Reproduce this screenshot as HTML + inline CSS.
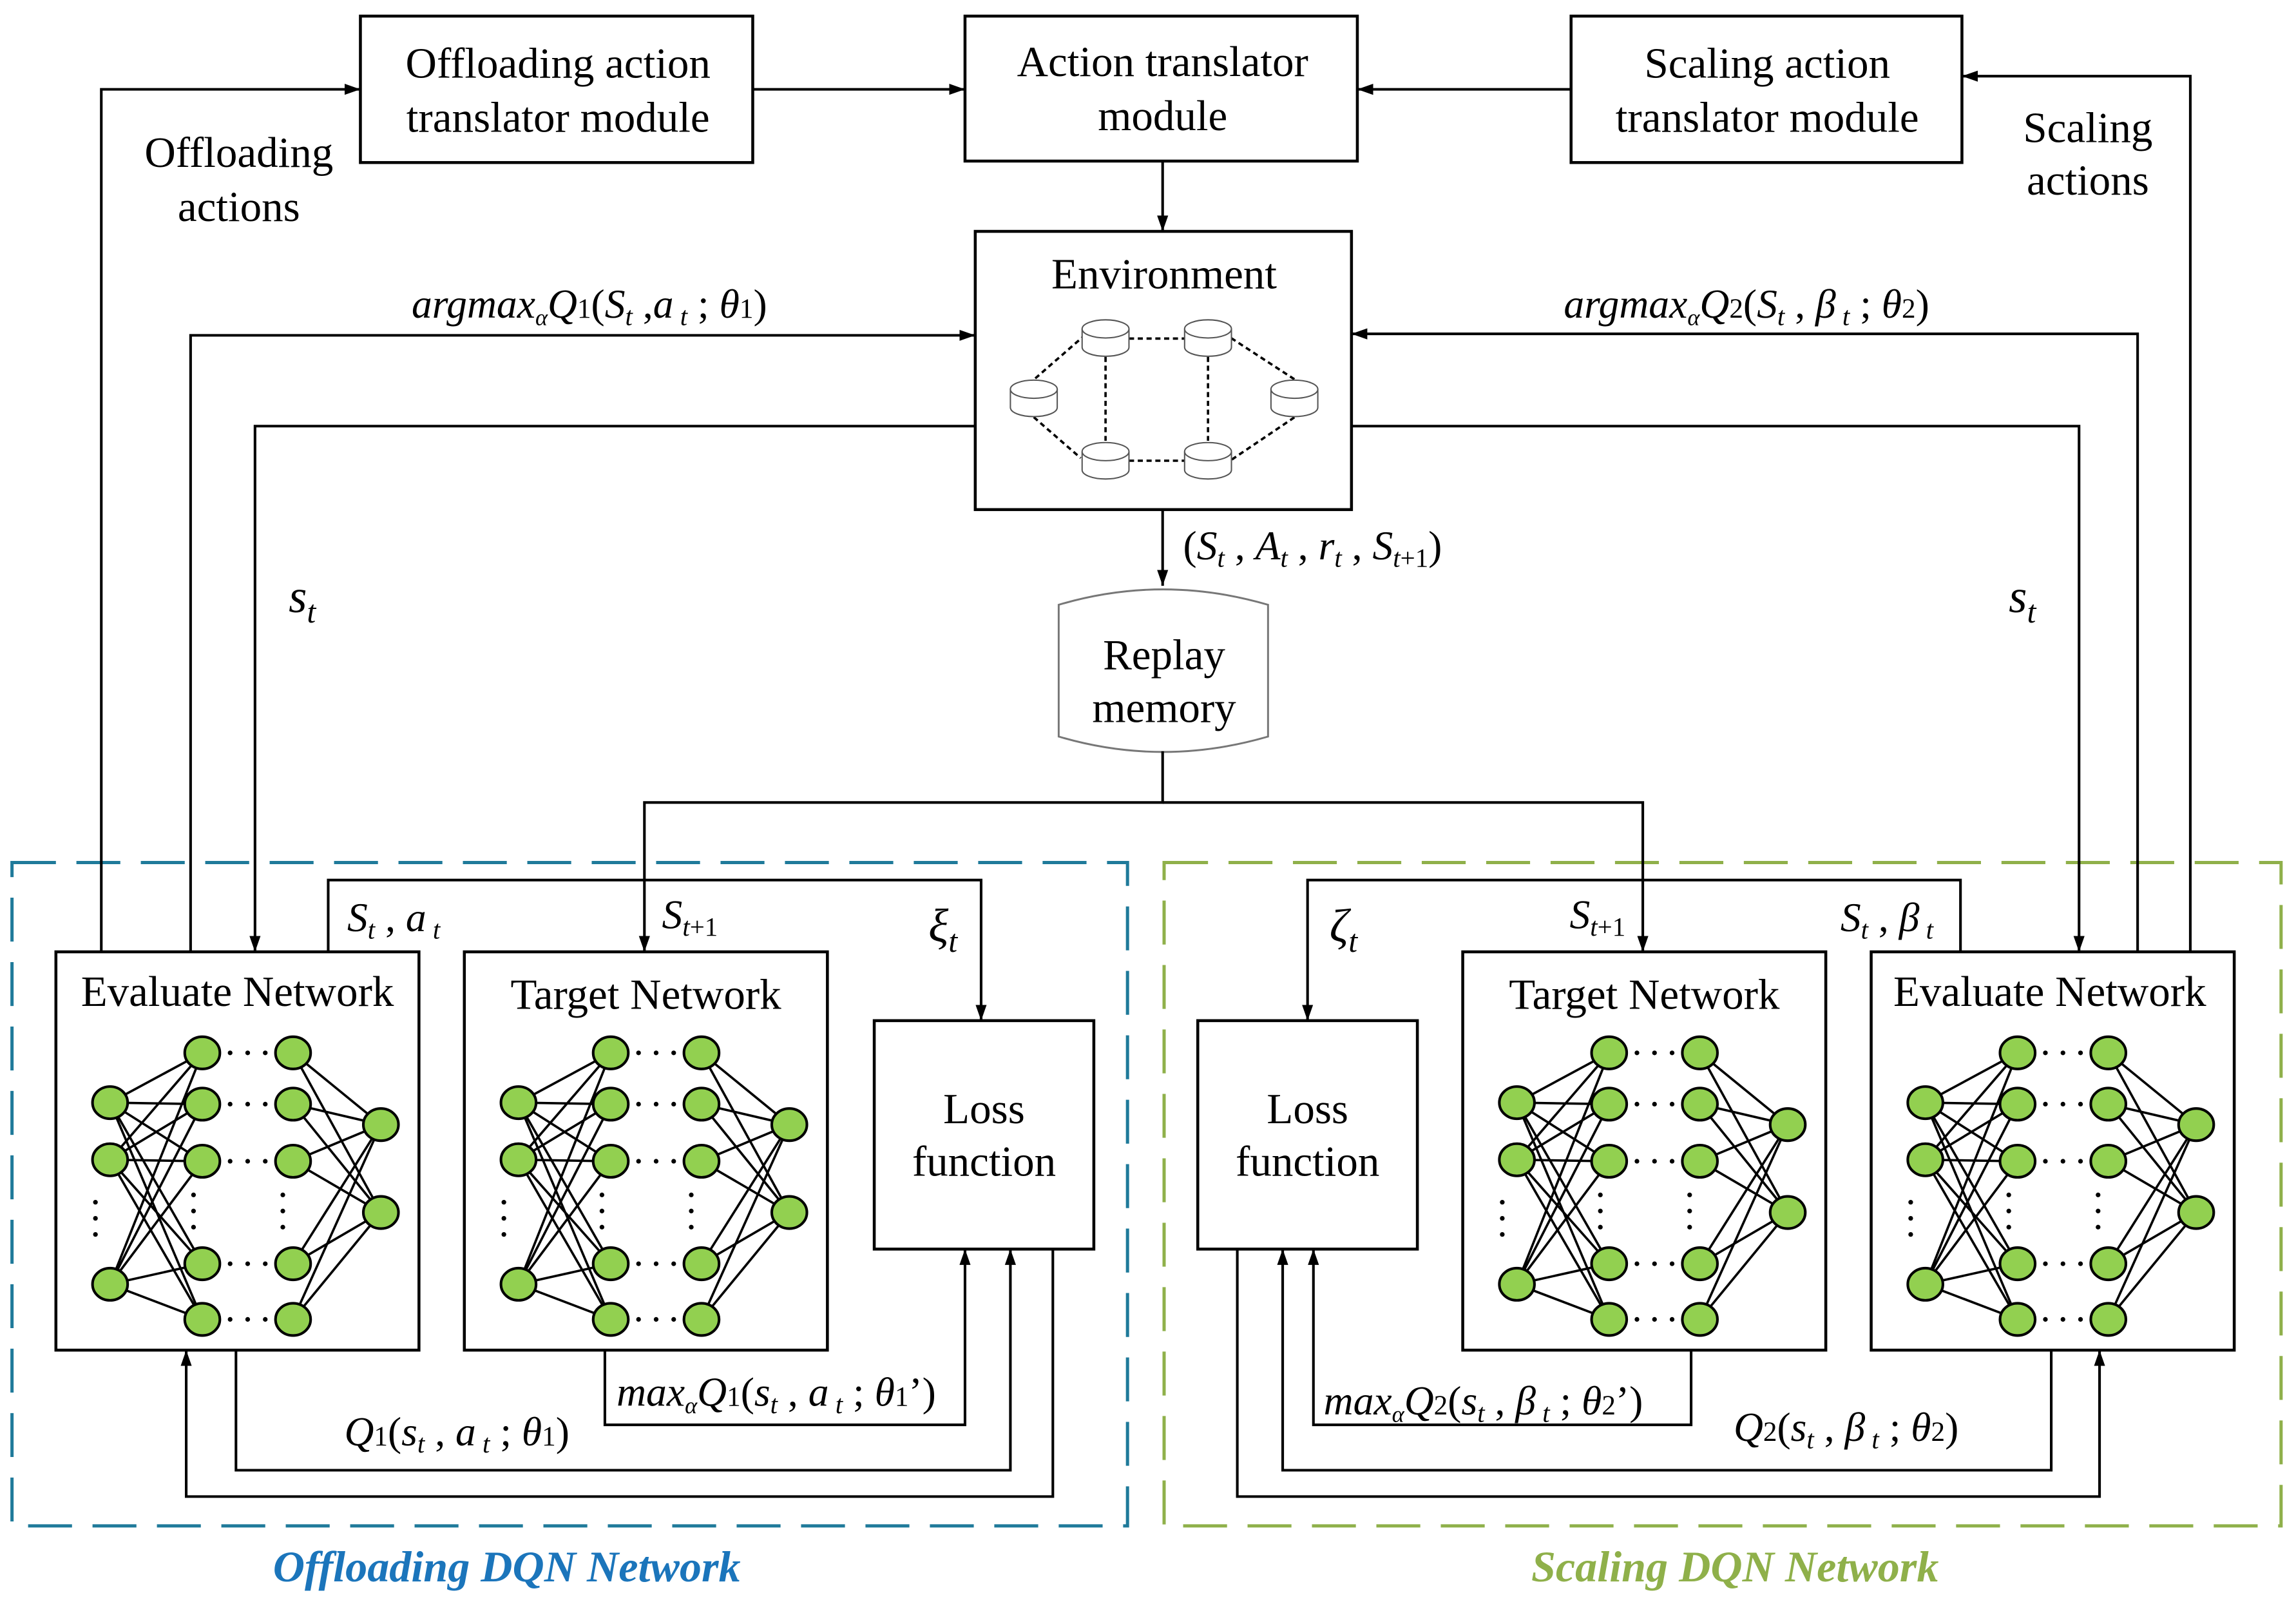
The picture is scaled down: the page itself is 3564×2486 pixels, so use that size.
<!DOCTYPE html>
<html><head><meta charset="utf-8"><style>
html,body{margin:0;padding:0;background:#fff}
svg{display:block}
svg text{font-family:"Liberation Serif","Times New Roman","DejaVu Serif",serif;fill:#000}
.m{font-style:italic}
</style></head><body>
<svg width="3564" height="2486" viewBox="0 0 1568 1094" xmlns="http://www.w3.org/2000/svg" font-family="Liberation Serif, serif">
<defs>
<marker id="a" viewBox="0 0 10 10" refX="10" refY="5" markerWidth="6" markerHeight="6" orient="auto" markerUnits="strokeWidth"><path d="M0,1.5 L10,5 L0,8.5 Z" fill="#000"/></marker>
<g id="cyl">
<path d="M-16,0 V12.5 A16,6.2 0 0 0 16,12.5 V0" fill="#fff" stroke="#555" stroke-width="0.9"/>
<ellipse cx="0" cy="0" rx="16" ry="6.2" fill="#fff" stroke="#555" stroke-width="0.9"/>
</g>
<g id="nn" stroke="#000" stroke-width="1.6">
<g>
<line x1="37" y1="103" x2="100" y2="69"/><line x1="37" y1="103" x2="100" y2="104"/><line x1="37" y1="103" x2="100" y2="143"/><line x1="37" y1="103" x2="100" y2="213"/><line x1="37" y1="103" x2="100" y2="251"/>
<line x1="37" y1="142" x2="100" y2="69"/><line x1="37" y1="142" x2="100" y2="104"/><line x1="37" y1="142" x2="100" y2="143"/><line x1="37" y1="142" x2="100" y2="213"/><line x1="37" y1="142" x2="100" y2="251"/>
<line x1="37" y1="227" x2="100" y2="69"/><line x1="37" y1="227" x2="100" y2="104"/><line x1="37" y1="227" x2="100" y2="143"/><line x1="37" y1="227" x2="100" y2="213"/><line x1="37" y1="227" x2="100" y2="251"/>
<line x1="162" y1="69" x2="222" y2="118"/><line x1="162" y1="104" x2="222" y2="118"/><line x1="162" y1="143" x2="222" y2="118"/><line x1="162" y1="213" x2="222" y2="118"/><line x1="162" y1="251" x2="222" y2="118"/>
<line x1="162" y1="69" x2="222" y2="178"/><line x1="162" y1="104" x2="222" y2="178"/><line x1="162" y1="143" x2="222" y2="178"/><line x1="162" y1="213" x2="222" y2="178"/><line x1="162" y1="251" x2="222" y2="178"/>
</g>
<g fill="#92d050" stroke-width="1.8">
<ellipse cx="37" cy="103" rx="12" ry="11"/><ellipse cx="37" cy="142" rx="12" ry="11"/><ellipse cx="37" cy="227" rx="12" ry="11"/>
<ellipse cx="100" cy="69" rx="12" ry="11"/><ellipse cx="100" cy="104" rx="12" ry="11"/><ellipse cx="100" cy="143" rx="12" ry="11"/><ellipse cx="100" cy="213" rx="12" ry="11"/><ellipse cx="100" cy="251" rx="12" ry="11"/>
<ellipse cx="162" cy="69" rx="12" ry="11"/><ellipse cx="162" cy="104" rx="12" ry="11"/><ellipse cx="162" cy="143" rx="12" ry="11"/><ellipse cx="162" cy="213" rx="12" ry="11"/><ellipse cx="162" cy="251" rx="12" ry="11"/>
<ellipse cx="222" cy="118" rx="12" ry="11"/><ellipse cx="222" cy="178" rx="12" ry="11"/>
</g>
<g fill="#000" stroke="none">
<circle cx="119" cy="69" r="1.6"/><circle cx="131" cy="69" r="1.6"/><circle cx="143" cy="69" r="1.6"/>
<circle cx="119" cy="104" r="1.6"/><circle cx="131" cy="104" r="1.6"/><circle cx="143" cy="104" r="1.6"/>
<circle cx="119" cy="143" r="1.6"/><circle cx="131" cy="143" r="1.6"/><circle cx="143" cy="143" r="1.6"/>
<circle cx="119" cy="213" r="1.6"/><circle cx="131" cy="213" r="1.6"/><circle cx="143" cy="213" r="1.6"/>
<circle cx="119" cy="251" r="1.6"/><circle cx="131" cy="251" r="1.6"/><circle cx="143" cy="251" r="1.6"/>
<circle cx="27" cy="171" r="1.6"/><circle cx="27" cy="182" r="1.6"/><circle cx="27" cy="193" r="1.6"/>
<circle cx="94" cy="166" r="1.6"/><circle cx="94" cy="177" r="1.6"/><circle cx="94" cy="188" r="1.6"/>
<circle cx="155" cy="166" r="1.6"/><circle cx="155" cy="177" r="1.6"/><circle cx="155" cy="188" r="1.6"/>
</g>
</g>
</defs>

<rect x="8" y="589" width="762" height="453" fill="none" stroke="#1f7a9a" stroke-width="2.2" stroke-dasharray="30,14"/>
<rect x="795" y="589" width="763" height="453" fill="none" stroke="#8fb04a" stroke-width="2.2" stroke-dasharray="30,14"/>

<g fill="#fff" stroke="#000" stroke-width="2">
<rect x="246" y="11" width="268" height="100"/>
<rect x="659" y="11" width="268" height="99"/>
<rect x="1073" y="11" width="267" height="100"/>
<rect x="666" y="158" width="257" height="190"/>
<rect x="38" y="650" width="248" height="272"/>
<rect x="317" y="650" width="248" height="272"/>
<rect x="999" y="650" width="248" height="272"/>
<rect x="1278" y="650" width="248" height="272"/>
<rect x="597" y="697" width="150" height="156"/>
<rect x="818" y="697" width="150" height="156"/>
</g>
<path d="M723,413 Q794,392 866,413 L866,503 Q794,524 723,503 Z" fill="#fff" stroke="#777" stroke-width="1.3"/>

<g stroke="#000" stroke-width="1.6" stroke-dasharray="3.5,2.5" fill="none">
<line x1="771" y1="231.2" x2="809" y2="231.2"/>
<line x1="755" y1="243.7" x2="755" y2="301"/>
<line x1="825" y1="243.7" x2="825" y2="301"/>
<line x1="771" y1="314.6" x2="809" y2="314.6"/>
<line x1="707" y1="258.4" x2="739" y2="230.5"/>
<line x1="706" y1="284.9" x2="738" y2="312.8"/>
<line x1="884" y1="259" x2="841" y2="231"/>
<line x1="884" y1="285" x2="841" y2="314"/>
</g>
<use href="#cyl" x="755" y="224.6"/><use href="#cyl" x="825" y="224.6"/>
<use href="#cyl" x="706" y="265.8"/><use href="#cyl" x="884" y="265.8"/>
<use href="#cyl" x="755" y="308.4"/><use href="#cyl" x="825" y="308.4"/>

<use href="#nn" x="38" y="650"/>
<use href="#nn" x="317" y="650"/>
<use href="#nn" x="999" y="650"/>
<use href="#nn" x="1278" y="650"/>

<g fill="none" stroke="#000" stroke-width="1.8" marker-end="url(#a)">
<path d="M69,650 V61 H246"/>
<path d="M514,61 H659"/>
<path d="M1073,61 H927"/>
<path d="M1496,650 V52 H1340"/>
<path d="M794,110 V158"/>
<path d="M130,650 V229 H666"/>
<path d="M1460,650 V228 H923"/>
<path d="M666,291 H174 V650"/>
<path d="M923,291 H1420 V650"/>
<path d="M794,348 V400"/>
<path d="M794,513 V548 H440 V650"/>
<path d="M794,548 H1122 V650"/>
<path d="M224,650 V601 H670 V697"/>
<path d="M1339,650 V601 H893 V697"/>
<path d="M161,922 V1004 H690 V853"/>
<path d="M413,922 V973 H659 V853"/>
<path d="M719,853 V1022 H127 V922"/>
<path d="M1401,922 V1004 H876 V853"/>
<path d="M1155,922 V973 H897 V853"/>
<path d="M845,853 V1022 H1434 V922"/>
</g>

<g font-size="29.5" text-anchor="middle">
<text x="381" y="53">Offloading action</text>
<text x="381" y="90">translator module</text>
<text x="794" y="52">Action translator</text>
<text x="794" y="89">module</text>
<text x="1207" y="53">Scaling action</text>
<text x="1207" y="90">translator module</text>
<text x="795" y="197">Environment</text>
<text x="795" y="457">Replay</text>
<text x="795" y="493">memory</text>
<text x="163" y="114">Offloading</text>
<text x="163" y="151">actions</text>
<text x="1426" y="97">Scaling</text>
<text x="1426" y="133">actions</text>
<text x="162" y="687">Evaluate Network</text>
<text x="441" y="689">Target Network</text>
<text x="1123" y="689">Target Network</text>
<text x="1400" y="687">Evaluate Network</text>
<text x="672" y="767">Loss</text>
<text x="672" y="803">function</text>
<text x="893" y="767">Loss</text>
<text x="893" y="803">function</text>
</g>

<g font-size="28">
<text x="281" y="217"><tspan class="m">argmax</tspan><tspan class="m" font-size="16" dy="5">α</tspan><tspan class="m" dy="-5">Q</tspan><tspan font-size="19">1</tspan>(<tspan class="m">S</tspan><tspan class="m" font-size="18" dy="5">t</tspan><tspan dy="-5"> ,</tspan><tspan class="m">a</tspan><tspan class="m" font-size="18" dy="5"> t</tspan><tspan dy="-5"> ; </tspan><tspan class="m">θ</tspan><tspan font-size="19">1</tspan>)</text>
<text x="1068" y="217"><tspan class="m">argmax</tspan><tspan class="m" font-size="16" dy="5">α</tspan><tspan class="m" dy="-5">Q</tspan><tspan font-size="19">2</tspan>(<tspan class="m">S</tspan><tspan class="m" font-size="18" dy="5">t</tspan><tspan dy="-5"> , </tspan><tspan class="m">β</tspan><tspan class="m" font-size="18" dy="5"> t</tspan><tspan dy="-5"> ; </tspan><tspan class="m">θ</tspan><tspan font-size="19">2</tspan>)</text>
<text x="808" y="382">(<tspan class="m">S</tspan><tspan class="m" font-size="18" dy="5">t</tspan><tspan dy="-5"> , </tspan><tspan class="m">A</tspan><tspan class="m" font-size="18" dy="5">t</tspan><tspan dy="-5"> , </tspan><tspan class="m">r</tspan><tspan class="m" font-size="18" dy="5">t</tspan><tspan dy="-5"> , </tspan><tspan class="m">S</tspan><tspan font-size="18" dy="5"><tspan class="m">t</tspan>+1</tspan><tspan dy="-5">)</tspan></text>
<text x="197" y="418" font-size="32"><tspan class="m">s</tspan><tspan class="m" font-size="22" dy="7">t</tspan></text>
<text x="1372" y="418" font-size="32"><tspan class="m">s</tspan><tspan class="m" font-size="22" dy="7">t</tspan></text>
<text x="237" y="636"><tspan class="m">S</tspan><tspan class="m" font-size="18" dy="5">t</tspan><tspan dy="-5"> , </tspan><tspan class="m">a</tspan><tspan class="m" font-size="18" dy="5"> t</tspan></text>
<text x="452" y="634"><tspan class="m">S</tspan><tspan font-size="18" dy="5"><tspan class="m">t</tspan>+1</tspan></text>
<text x="634" y="643" font-size="32"><tspan class="m">ξ</tspan><tspan class="m" font-size="22" dy="7">t</tspan></text>
<text x="908" y="643" font-size="32"><tspan class="m">ζ</tspan><tspan class="m" font-size="22" dy="7">t</tspan></text>
<text x="1072" y="634"><tspan class="m">S</tspan><tspan font-size="18" dy="5"><tspan class="m">t</tspan>+1</tspan></text>
<text x="1257" y="636"><tspan class="m">S</tspan><tspan class="m" font-size="18" dy="5">t</tspan><tspan dy="-5"> , </tspan><tspan class="m">β</tspan><tspan class="m" font-size="18" dy="5"> t</tspan></text>
<text x="235" y="987"><tspan class="m">Q</tspan><tspan font-size="19">1</tspan>(<tspan class="m">s</tspan><tspan class="m" font-size="18" dy="5">t</tspan><tspan dy="-5"> , </tspan><tspan class="m">a</tspan><tspan class="m" font-size="18" dy="5"> t</tspan><tspan dy="-5"> ; </tspan><tspan class="m">θ</tspan><tspan font-size="19">1</tspan>)</text>
<text x="421" y="960"><tspan class="m">max</tspan><tspan class="m" font-size="16" dy="5">α</tspan><tspan class="m" dy="-5">Q</tspan><tspan font-size="19">1</tspan>(<tspan class="m">s</tspan><tspan class="m" font-size="18" dy="5">t</tspan><tspan dy="-5"> , </tspan><tspan class="m">a</tspan><tspan class="m" font-size="18" dy="5"> t</tspan><tspan dy="-5"> ; </tspan><tspan class="m">θ</tspan><tspan font-size="19">1</tspan>’)</text>
<text x="904" y="966"><tspan class="m">max</tspan><tspan class="m" font-size="16" dy="5">α</tspan><tspan class="m" dy="-5">Q</tspan><tspan font-size="19">2</tspan>(<tspan class="m">s</tspan><tspan class="m" font-size="18" dy="5">t</tspan><tspan dy="-5"> , </tspan><tspan class="m">β</tspan><tspan class="m" font-size="18" dy="5"> t</tspan><tspan dy="-5"> ; </tspan><tspan class="m">θ</tspan><tspan font-size="19">2</tspan>’)</text>
<text x="1184" y="984"><tspan class="m">Q</tspan><tspan font-size="19">2</tspan>(<tspan class="m">s</tspan><tspan class="m" font-size="18" dy="5">t</tspan><tspan dy="-5"> ,  </tspan><tspan class="m">β</tspan><tspan class="m" font-size="18" dy="5"> t</tspan><tspan dy="-5"> ; </tspan><tspan class="m">θ</tspan><tspan font-size="19">2</tspan>)</text>
</g>

<text x="346" y="1080" font-size="30" font-weight="bold" font-style="italic" text-anchor="middle" style="fill:#1b75bb">Offloading DQN Network</text>
<text x="1185" y="1080" font-size="30" font-weight="bold" font-style="italic" text-anchor="middle" style="fill:#8fb04a">Scaling DQN Network</text>
</svg>
</body></html>
